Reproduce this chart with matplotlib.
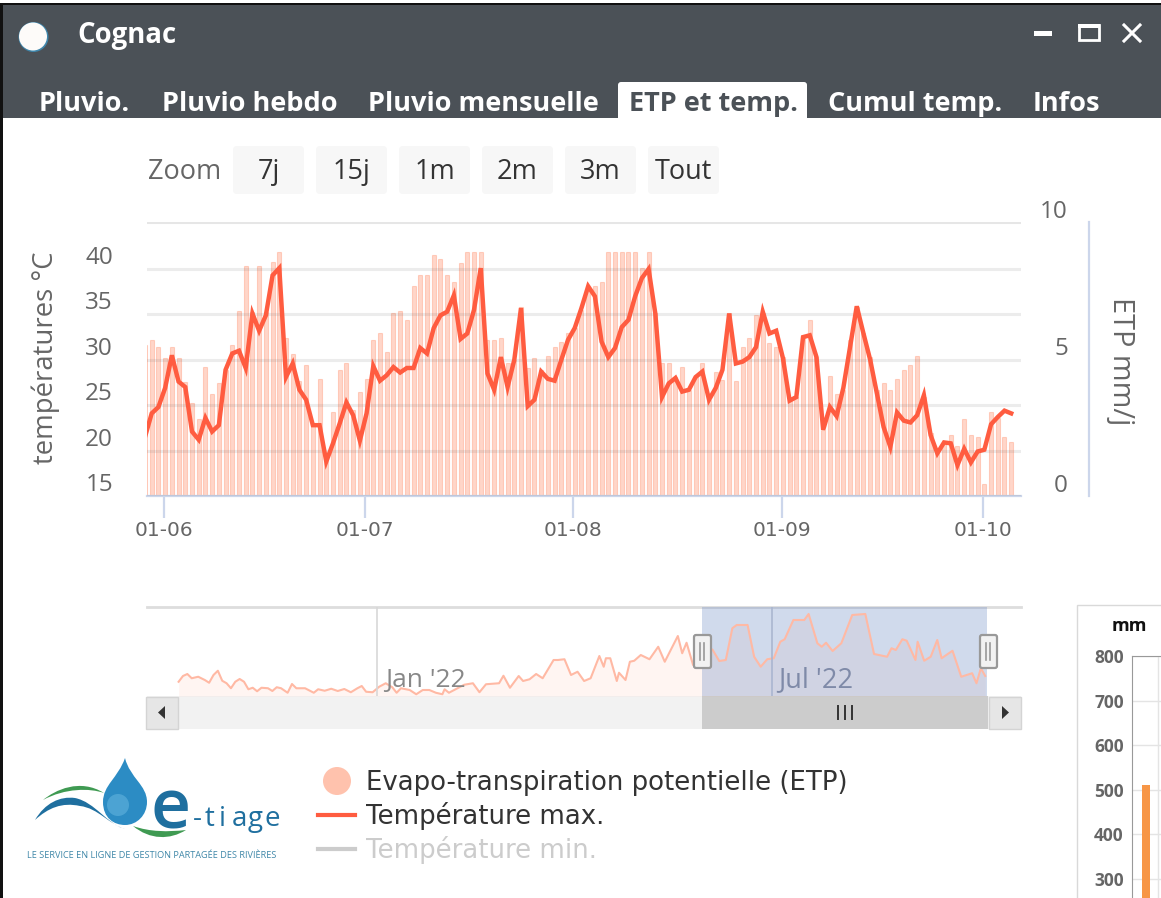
import numpy as np
import matplotlib
matplotlib.use('Agg')
import matplotlib.pyplot as plt
from matplotlib.patches import Rectangle, Circle, FancyBboxPatch, PathPatch, Polygon
from matplotlib.path import Path

W = 1161
H = 898

# main chart, one value per day, first one falls just left of the plot
etp = [5.5,
    5.69, 5.45, 5.02, 5.45, 5.02, 4.17, 3.38, 2.81, 4.72, 3.71,
    4.14, 4.60, 5.51, 6.75, 8.39, 6.73, 8.39, 6.70, 8.55, 8.89,
    5.75, 5.18, 4.20, 4.78, 2.65, 4.27, 1.40, 3.05, 4.60, 4.87,
    3.14, 3.80, 4.27, 5.69, 5.94, 5.27, 6.67, 6.75, 6.42, 7.66,
    8.07, 8.07,
    8.80, 8.65, 8.07, 7.82, 8.49, 8.89, 8.89, 8.89, 5.69, 5.69,
    5.75, 4.84, 4.96, 6.91, 4.68, 5.02, 4.60, 5.12, 5.45, 5.63,
    5.94, 6.12, 6.79, 7.52, 7.66, 7.82, 8.89, 8.89, 8.89,
    8.89, 8.89, 8.31, 8.89, 6.67, 4.84, 4.84, 4.36, 4.72, 3.87,
    4.36, 4.84, 3.50, 4.54, 4.23, 6.67, 4.19, 5.45,
    5.78, 6.61, 6.67, 5.60, 5.45, 5.09, 3.50, 3.63, 5.82, 6.42,
    5.09, 2.41, 4.39, 3.71, 3.87, 5.69, 6.91, 5.94, 5.09, 3.87,
    4.14, 3.87, 4.27, 4.60, 4.78, 5.12, 3.63, 2.29, 1.56, 1.92,
    2.23, 1.82, 2.81, 2.23, 2.17, 0.43, 3.08, 2.83, 2.17, 1.96]

tmax = [21.5,
    24.1, 24.8, 26.9, 30.5, 27.6, 27.0, 22.1, 21.2, 23.6, 22.1,
    22.8, 28.9, 30.7, 31.0, 29.1, 35.1, 33.2, 34.9, 39.3, 40.1,
    28.1, 29.6, 26.7, 25.6, 22.8, 22.8, 18.8, 20.8, 23.0, 25.3,
    23.9, 21.1, 24.1, 29.3, 27.7, 28.3, 29.2, 28.6, 29.1, 29.1,
    31.3, 30.7,
    33.5, 34.9, 35.3, 37.1, 32.3, 32.9, 35.5, 40.1, 28.5, 26.7,
    30.3, 27.0, 30.0, 35.7, 24.9, 25.6, 28.7, 27.9, 27.7, 30.0,
    32.2, 33.5, 35.7, 38.1, 37.0, 32.0, 30.3, 31.3, 33.6, 34.4,
    37.0, 39.0, 40.0, 35.1, 25.9, 27.4, 28.0, 26.5, 26.7, 28.1,
    28.7, 25.6, 26.9, 28.9, 35.1, 29.6, 29.8,
    30.3, 31.4, 35.3, 32.9, 33.2, 30.2, 25.5, 25.9, 32.5, 32.7,
    30.3, 22.3, 24.8, 23.8, 26.9, 31.4, 35.9, 32.9, 30.0, 26.3,
    22.6, 20.4, 24.2, 23.3, 23.1, 23.9, 26.1, 21.7, 19.7, 20.9,
    20.8, 18.4, 20.2, 18.7, 19.9, 20.1, 22.9, 23.7, 24.4, 24.1]

x_labels = ['01-06', '01-07', '01-08', '01-09', '01-10']
x_ticks = [1.8, 31.8, 62.8, 93.8, 123.8]
t_ticks = [15, 20, 25, 30, 35, 40]
etp_ticks = [0, 5, 10]

# navigator trace, days counted from 1 jan 2022
nav_days = [-91, -89, -87, -85, -82, -79, -77, -75, -73, -71, -69, -67, -65, -63, -61,
    -59, -57, -55, -53, -50, -48, -46, -44, -41, -39, -37, -33, -29, -27, -24,
    -21, -18, -15, -12, -9, -7, -5, -2, 1, 4, 7, 9, 11, 15, 18,
    21, 24, 27, 30, 31, 33, 37, 40, 44, 47, 50, 56, 58, 61, 65,
    67, 70, 73, 76, 81, 83, 86, 89, 92, 95,
    98, 102, 104, 105, 107, 110, 111, 114, 116, 118, 121, 125, 129, 132, 138,
    140, 142, 145, 150, 154, 157, 160, 163, 165, 170, 173, 176, 179, 182, 185,
    187, 191, 196, 198, 202, 204, 206, 209, 213, 218, 224, 228, 234, 236, 238,
    241, 243, 247, 248, 251, 254, 257, 259, 264, 268, 273, 275, 277, 279]
nav_temp = [12.9, 15.2, 16.0, 14.3, 14.9, 13.6, 12.5, 15.6, 17.3, 13.3, 12.3, 10.3, 12.9, 14.0, 12.9,
    9.9, 10.5, 9.1, 10.5, 10.3, 9.2, 10.7, 10.3, 8.5, 12.0, 10.3, 10.3, 8.5, 9.9, 9.3,
    10.1, 9.2, 10.0, 8.7, 10.3, 11.2, 8.9, 8.7, 10.9, 12.3, 10.7, 8.5, 10.3, 9.6, 7.9,
    9.6, 9.6, 8.5, 7.9, 9.9, 8.5, 10.3, 11.7, 12.3, 8.7, 11.9, 12.3, 15.3, 10.5, 15.2,
    13.2, 13.9, 16.0, 14.3, 21.6, 21.6, 21.9, 15.6, 16.9, 13.2,
    14.3, 23.2, 18.9, 22.3, 22.3, 13.2, 16.5, 13.6, 20.9, 21.3, 23.6, 21.9, 26.9, 20.9, 31.2,
    24.3, 28.5, 19.6, 28.3, 25.6, 21.2, 21.6, 34.3, 35.6, 35.6, 22.9, 18.9, 21.9, 22.3, 28.9,
    29.9, 37.6, 37.6, 40.0, 28.3, 26.9, 28.5, 25.2, 28.3, 39.6, 40.0, 24.0, 22.9, 26.3, 25.6,
    29.9, 29.3, 21.6, 28.9, 21.3, 22.9, 29.6, 22.3, 25.3, 14.9, 16.3, 12.3, 18.3, 15.2]

# piece of the next window, bottom right
mm_ticks = [300, 400, 500, 600, 700, 800]
mm_values = [510]

tabs = ['Pluvio.', 'Pluvio hebdo', 'Pluvio mensuelle', 'ETP et temp.', 'Cumul temp.', 'Infos']
tabs_x = [39, 162, 368, 629, 828, 1033]
zoom_labels = ['7j', '15j', '1m', '2m', '3m', 'Tout']

UI = 'Open Sans'
LINE = '#ff5c40'
AXIS = '#ccd6eb'
GRID = '#e6e6e6'
GREY = '#666666'


def px_axes(x0, y0, x1, y1):
    return fig.add_axes([x0 / W, 1 - y1 / H, (x1 - x0) / W, (y1 - y0) / H])


fig = plt.figure(figsize=(W / 100, H / 100), dpi=100)
bg = fig.add_axes([0, 0, 1, 1])
bg.set_xlim(0, W)
bg.set_ylim(H, 0)
bg.axis('off')

# window frame
bg.add_patch(Rectangle((0, 5), W, 113, color='#4b5157', lw=0))
bg.add_patch(Rectangle((0, 3), W, 2, color='#111111', lw=0))
bg.add_patch(Rectangle((0, 3), 2.5, H, color='#111111', lw=0))
bg.add_patch(Circle((33.5, 37), 15, color='#3f86ab', lw=0))
bg.add_patch(Circle((33, 36.5), 14, color='#fdfbf9', lw=0))
bg.text(77, 35, 'Cognac', color='white', fontsize=19.8, fontweight='bold', family=UI, va='center')
bg.add_patch(Rectangle((1034, 31), 18, 4.5, color='white', lw=0))
bg.add_patch(Rectangle((1079, 25), 20, 15, fill=False, ec='white', lw=2))
bg.add_patch(Rectangle((1078, 24), 22, 4, color='white', lw=0))
bg.plot([1124, 1140], [25, 41], color='white', lw=2.2)
bg.plot([1124, 1140], [41, 25], color='white', lw=2.2)

bg.add_patch(FancyBboxPatch((618, 82), 189, 40, boxstyle='round,pad=0,rounding_size=3', color='white', lw=0))
bg.add_patch(Rectangle((2.5, 118), W, 10, color='white', lw=0))
for name, tx in zip(tabs, tabs_x):
    col = '#4b5157' if name == 'ETP et temp.' else 'white'
    bg.text(tx, 104, name, color=col, fontsize=19.5, fontweight='bold', family=UI, va='center')

# zoom buttons
bg.text(148, 172, 'Zoom', color=GREY, fontsize=19.5, family=UI, va='center')
for i, name in enumerate(zoom_labels):
    bx = 233 + i * 83
    bg.add_patch(FancyBboxPatch((bx, 146), 71, 48, boxstyle='round,pad=0,rounding_size=4', color='#f7f7f7', lw=0))
    bg.text(bx + 35.5, 172, name, color='#333333', fontsize=19.5, family=UI, ha='center', va='center')

# main chart
ax = px_axes(147, 222, 1021, 496)
ax.patch.set_alpha(0)
days = np.arange(-1, 129)
ax.bar(days, etp, width=0.6, facecolor=(1, 0.48, 0.31, 0.3), edgecolor=(1, 0.48, 0.31, 0.3), linewidth=0.8, zorder=2)
ax.set_xlim(-0.7, 129.46)
ax.set_ylim(0, 10)
ax.set_yticks([10])
ax.set_yticklabels([])
ax.set_xticks(x_ticks)
ax.set_xticklabels(x_labels, color=GREY, fontsize=14.5)
ax.tick_params(axis='x', length=16, width=1.6, color=AXIS, pad=2)
ax.tick_params(axis='y', length=0)
ax.grid(axis='y', color=GRID, lw=2.2, zorder=0)
for s in ['top', 'left', 'right']:
    ax.spines[s].set_visible(False)
ax.spines['bottom'].set_color(AXIS)
ax.spines['bottom'].set_linewidth(1.6)
ax.set_axisbelow(True)

ax2 = ax.twinx()
ax2.plot(days, tmax, color=LINE, lw=3.2, solid_joinstyle='miter', zorder=5)
ax2.set_ylim(15, 45.18)
ax2.set_yticks(t_ticks)
ax2.set_yticklabels([])
ax2.tick_params(axis='y', length=0)
ax2.grid(axis='y', color='#555555', alpha=0.11, lw=2.2)
for s in ax2.spines.values():
    s.set_visible(False)

for t in t_ticks:
    ax2.annotate(str(t), xy=(0, t), xycoords=('axes fraction', 'data'), xytext=(-34, 11), textcoords='offset pixels',
                 color=GREY, fontsize=17.5, family=UI, ha='right', va='center')
for v in etp_ticks:
    ax.annotate(str(v), xy=(1, v), xycoords=('axes fraction', 'data'), xytext=(47, 10), textcoords='offset pixels',
                color=GREY, fontsize=17.5, family=UI, ha='right', va='center')

bg.plot([1089, 1089], [222, 496], color=AXIS, lw=1.6)
bg.text(46, 358, 'températures °C', color=GREY, fontsize=19.8, family=UI, rotation=90, ha='center', va='center')
bg.text(1121, 361, 'ETP mm/j', color=GREY, fontsize=20.8, family=UI, rotation=270, ha='center', va='center')

# navigator
nav = px_axes(147, 607, 1021, 696)
nav.patch.set_alpha(0)
nav_x0 = -(377 - 147) / 2.18
nav_x1 = (1021 - 377) / 2.18
nav.set_xlim(nav_x0, nav_x1)
nav.set_ylim(7.2, 42.8)
nav.fill_between(nav_days, nav_temp, 7.2, color='#ff7a50', alpha=0.07, lw=0)
nav.plot(nav_days, nav_temp, color='#ffb9a4', lw=1.5)
nav.axis('off')
nav.axvspan(149, 280, color='#6685c2', alpha=0.3, lw=0)
nav.axvline(0, color='#d8d8d8', lw=1.2)
nav.axvline(181, color='#aab6d0', lw=1.2)
nav.text(3.5, 13.5, "Jan '22", color='#888888', fontsize=19, family=UI, va='center')
nav.text(184, 13.5, "Jul '22", color='#7f8aa8', fontsize=19.5, family=UI, va='center')

bg.plot([147, 1021], [607, 607], color='#dddddd', lw=2)
bg.add_patch(Rectangle((147, 696), 874, 33, color='#f2f2f2', lw=0))
bg.add_patch(Rectangle((702, 696), 286, 33, color='#cccccc', lw=0))
for bx in [146, 989]:
    bg.add_patch(Rectangle((bx, 697), 32, 32, fc='#e6e6e6', ec='#d4d4d4', lw=1))
bg.add_patch(Polygon([[165, 706], [165, 719], [158, 712.5]], color='#333333', lw=0))
bg.add_patch(Polygon([[1002, 706], [1002, 719], [1009, 712.5]], color='#333333', lw=0))
for gx in [838, 845, 852]:
    bg.plot([gx, gx], [706, 719], color='#333333', lw=1.4)

top = fig.add_axes([0, 0, 1, 1])
top.set_xlim(0, W)
top.set_ylim(H, 0)
top.axis('off')
for hx in [702, 988]:
    top.add_patch(FancyBboxPatch((hx - 8, 635), 17, 33, boxstyle='round,pad=0,rounding_size=2', fc='#f2f2f2', ec='#999999', lw=1.6))
    top.plot([hx - 1.8, hx - 1.8], [643, 660], color='#999999', lw=1.2)
    top.plot([hx + 2, hx + 2], [643, 660], color='#999999', lw=1.2)

# legend
bg.add_patch(Circle((337, 781), 14, color='#ffc2ad', lw=0))
bg.text(366, 783, 'Evapo-transpiration potentielle (ETP)', color='#333333', fontsize=18.7, va='center')
bg.plot([318, 355], [815, 815], color=LINE, lw=3)
bg.text(366, 816, 'Température max.', color='#333333', fontsize=18.7, va='center')
bg.plot([318, 355], [849, 849], color='#cccccc', lw=3)
bg.text(366, 850, 'Température min.', color='#cccccc', fontsize=18.7, va='center')

# logo
MC = Path.MOVETO
C4 = Path.CURVE4
drop = Path([(125, 758), (118, 778), (103, 785), (103, 802), (103, 818), (114, 825), (125, 825),
             (137, 825), (147, 815), (147, 802), (147, 785), (130, 778), (125, 758), (125, 758)],
            [MC, C4, C4, C4, C4, C4, C4, C4, C4, C4, C4, C4, C4, Path.CLOSEPOLY])
bg.add_patch(PathPatch(drop, fc='#2c8cc4', lw=0))
bg.add_patch(Circle((118, 805), 11, color='#62b4de', alpha=0.6, lw=0))
blue = Path([(35, 820), (45, 803), (60, 796), (75, 798), (95, 802), (108, 825), (125, 829),
             (110, 825), (98, 808), (80, 806), (62, 802), (48, 808), (35, 820), (35, 820)],
            [MC, C4, C4, C4, C4, C4, C4, C4, C4, C4, C4, C4, C4, Path.CLOSEPOLY])
bg.add_patch(PathPatch(blue, fc='#1f6f9f', lw=0))
green = Path([(43, 800), (55, 790), (80, 778), (104, 793), (90, 788), (65, 788), (43, 800), (43, 800)],
             [MC, C4, C4, C4, C4, C4, C4, Path.CLOSEPOLY])
bg.add_patch(PathPatch(green, fc='#3f9a52', lw=0))
green2 = Path([(133, 826), (150, 840), (170, 840), (186, 830), (168, 832), (150, 832), (133, 826), (133, 826)],
              [MC, C4, C4, C4, C4, C4, C4, Path.CLOSEPOLY])
bg.add_patch(PathPatch(green2, fc='#3f9a52', lw=0))
bg.text(151, 811, 'e', color='#1f6f9f', fontsize=50, family=UI, fontweight='semibold', va='center')
logo_letters = ['-', 't', 'i', 'a', 'g', 'e']
logo_x = [193, 205, 219, 232, 248, 264]
for ch, lx in zip(logo_letters, logo_x):
    bg.text(lx, 819, ch, color='#1f6f9f', fontsize=20, family=UI, va='center')
bg.text(27, 855, 'LE SERVICE EN LIGNE DE GESTION PARTAGÉE DES RIVIÈRES', color='#3f87a8', fontsize=6.6, family=UI, va='center')

# other window corner
bg.add_patch(Rectangle((1077, 605), 90, 300, fc='white', ec='#d9d9d9', lw=1))
bg.text(1129, 626, 'mm', color='#111111', fontsize=13, fontweight='bold', family=UI, ha='center', va='center')
mm = px_axes(1132, 656, 1161, 898)
mm.bar([14], mm_values, width=8, color='#f79646', zorder=3)
mm.set_xlim(0, 29)
mm.set_ylim(257, 800)
mm.set_xticks([26])
mm.set_xticklabels([])
mm.set_yticks(mm_ticks)
mm.set_yticklabels(mm_ticks, color=GREY, fontsize=12.5, fontweight='bold', family=UI)
mm.tick_params(length=0, pad=6)
mm.grid(color='#e4e4e4', lw=1)
mm.set_axisbelow(True)
for s in ['bottom', 'right']:
    mm.spines[s].set_visible(False)
for s in ['top', 'left']:
    mm.spines[s].set_color('#999999')

fig.savefig('out.png', dpi=100)
